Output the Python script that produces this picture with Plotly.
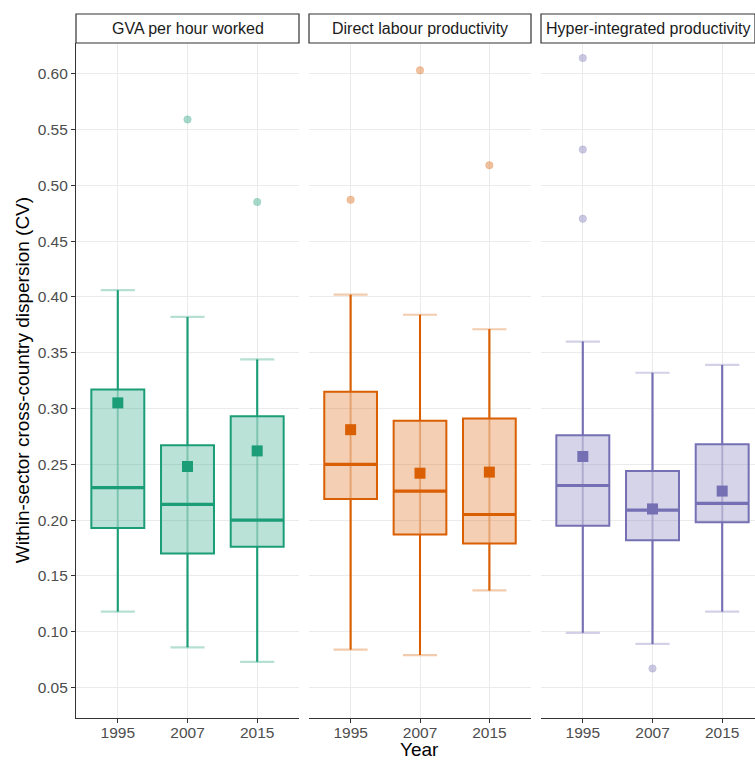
import plotly.graph_objects as go

# ---------------- data ----------------
years = ["1995", "2007", "2015"]
measures = ["GVA per hour worked", "Direct labour productivity", "Hyper-integrated productivity"]
colors = ["#1B9E77", "#D95F02", "#7570B3"]

lower_gva = [0.118, 0.086, 0.073]
q1_gva = [0.193, 0.170, 0.176]
median_gva = [0.229, 0.214, 0.200]
q3_gva = [0.317, 0.267, 0.293]
upper_gva = [0.406, 0.382, 0.344]
mean_gva = [0.305, 0.248, 0.262]
out_year_gva = ["2007", "2015"]
out_val_gva = [0.559, 0.485]

lower_dlp = [0.084, 0.079, 0.137]
q1_dlp = [0.219, 0.187, 0.179]
median_dlp = [0.250, 0.226, 0.205]
q3_dlp = [0.315, 0.289, 0.291]
upper_dlp = [0.402, 0.384, 0.371]
mean_dlp = [0.281, 0.242, 0.243]
out_year_dlp = ["1995", "2007", "2015"]
out_val_dlp = [0.487, 0.603, 0.518]

lower_hip = [0.099, 0.089, 0.118]
q1_hip = [0.195, 0.182, 0.198]
median_hip = [0.231, 0.209, 0.215]
q3_hip = [0.276, 0.244, 0.268]
upper_hip = [0.360, 0.332, 0.339]
mean_hip = [0.257, 0.210, 0.226]
out_year_hip = ["1995", "1995", "1995", "2007"]
out_val_hip = [0.614, 0.532, 0.470, 0.067]

y_ticks = [0.05, 0.10, 0.15, 0.20, 0.25, 0.30, 0.35, 0.40, 0.45, 0.50, 0.55, 0.60]

panels = [
    (lower_gva, q1_gva, median_gva, q3_gva, upper_gva, mean_gva, out_year_gva, out_val_gva),
    (lower_dlp, q1_dlp, median_dlp, q3_dlp, upper_dlp, mean_dlp, out_year_dlp, out_val_dlp),
    (lower_hip, q1_hip, median_hip, q3_hip, upper_hip, mean_hip, out_year_hip, out_val_hip),
]

# ---------------- style ----------------
W, H = 755, 760
BOX_W = 0.76
CAP_W = 0.49
FONT = "Liberation Sans, Arial, sans-serif"


def rgba(hexc, a):
    h = hexc.lstrip("#")
    r, g, b = int(h[0:2], 16), int(h[2:4], 16), int(h[4:6], 16)
    return f"rgba({r},{g},{b},{a})"


pos = [1, 2, 3]
fig = go.Figure()

for i, (lo, q1, med, q3, up, mn, oy, ov) in enumerate(panels):
    c = colors[i]
    xa = "x" if i == 0 else f"x{i+1}"
    # light errorbar (vertical + caps)
    ex, ey = [], []
    for p, l, u in zip(pos, lo, up):
        ex += [p, p, None, p - CAP_W / 2, p + CAP_W / 2, None, p - CAP_W / 2, p + CAP_W / 2, None]
        ey += [l, u, None, l, l, None, u, u, None]
    fig.add_trace(go.Scatter(x=ex, y=ey, mode="lines", xaxis=xa, yaxis="y",
                             line=dict(color=rgba(c, 0.32), width=2.2),
                             hoverinfo="skip", showlegend=False))
    # box
    fig.add_trace(go.Box(x=pos, q1=q1, median=med, q3=q3, lowerfence=lo, upperfence=up,
                         xaxis=xa, yaxis="y", width=BOX_W, whiskerwidth=0,
                         fillcolor=rgba(c, 0.3), line=dict(color=c, width=2),
                         boxpoints=False, showlegend=False, hoverinfo="skip"))
    # thicker median
    mx, my = [], []
    for p, m in zip(pos, med):
        mx += [p - BOX_W / 2, p + BOX_W / 2, None]
        my += [m, m, None]
    fig.add_trace(go.Scatter(x=mx, y=my, mode="lines", xaxis=xa, yaxis="y",
                             line=dict(color=c, width=3.2), hoverinfo="skip", showlegend=False))
    # mean squares
    fig.add_trace(go.Scatter(x=pos, y=mn, mode="markers", xaxis=xa, yaxis="y",
                             marker=dict(symbol="square", size=11, color=c, line=dict(width=0)),
                             hoverinfo="skip", showlegend=False))
    # outliers
    fig.add_trace(go.Scatter(x=[pos[years.index(y)] for y in oy], y=ov, mode="markers",
                             xaxis=xa, yaxis="y",
                             marker=dict(symbol="circle", size=7.5, color=rgba(c, 0.38),
                                         line=dict(width=0.8, color=rgba(c, 0.22))),
                             hoverinfo="skip", showlegend=False))

# ---------------- layout ----------------
ydom = [1 - 717.5 / H, 1 - 43 / H]
xdoms = [[76 / W, 299 / W], [309 / W, 531 / W], [541 / W, 1.0]]
px_per_unit = 223 / 3.2
xranges = [[0.4, 3.6], [0.4, 3.6], [0.4, 0.4 + 214 / px_per_unit]]

layout = dict(
    width=W, height=H,
    margin=dict(l=0, r=0, t=0, b=0),
    paper_bgcolor="white", plot_bgcolor="white",
    font=dict(family=FONT),
    boxmode="overlay",
    showlegend=False,
    yaxis=dict(domain=ydom, range=[0.0231, 0.6275], anchor="x",
               tickvals=y_ticks, ticktext=[f"{v:.2f}" for v in y_ticks],
               showgrid=True, gridcolor="#EBEBEB", gridwidth=1, zeroline=False,
               showline=True, linecolor="#333333", linewidth=1.2,
               ticks="outside", ticklen=4, tickcolor="#333333", tickwidth=1.2,
               tickfont=dict(size=15.5, color="#4D4D4D", family=FONT), automargin=False),
)
for i in range(3):
    key = "xaxis" if i == 0 else f"xaxis{i+1}"
    layout[key] = dict(domain=xdoms[i], range=xranges[i], anchor="y",
                       tickvals=pos, ticktext=years,
                       showgrid=True, gridcolor="#EBEBEB", gridwidth=1, zeroline=False,
                       showline=True, linecolor="#333333", linewidth=1.2,
                       ticks="outside", ticklen=4, tickcolor="#333333", tickwidth=1.2,
                       ticklabelstandoff=-3,
                       tickfont=dict(size=15.5, color="#4D4D4D", family=FONT), automargin=False)

shapes, annotations = [], []
sy0, sy1 = 1 - 43 / H, 1 - 14 / H
for i, name in enumerate(measures):
    xr = "x domain" if i == 0 else f"x{i+1} domain"
    shapes.append(dict(type="rect", xref=xr, yref="paper", x0=0, x1=1, y0=sy0, y1=sy1,
                       line=dict(color="#333333", width=1.2), fillcolor="white", layer="above"))
    annotations.append(dict(text=name, xref=xr, yref="paper", x=0.5, y=(sy0 + sy1) / 2,
                            xanchor="center", yanchor="middle", showarrow=False,
                            font=dict(size=16, color="#1A1A1A", family=FONT)))

annotations.append(dict(text="Within-sector cross-country dispersion (CV)", xref="paper", yref="paper",
                        x=22 / W, y=(ydom[0] + ydom[1]) / 2, textangle=-90,
                        xanchor="center", yanchor="middle", showarrow=False,
                        font=dict(size=19, color="black", family=FONT)))
annotations.append(dict(text="Year", xref="paper", yref="paper",
                        x=420 / W, y=1 - 749 / H, xanchor="center", yanchor="middle",
                        showarrow=False, font=dict(size=19, color="black", family=FONT)))

layout["shapes"] = shapes
layout["annotations"] = annotations
fig.update_layout(**layout)

fig.write_html("out.html", config={"displayModeBar": False},
               post_script="document.body.style.margin='0px';document.body.style.overflow='hidden';")
